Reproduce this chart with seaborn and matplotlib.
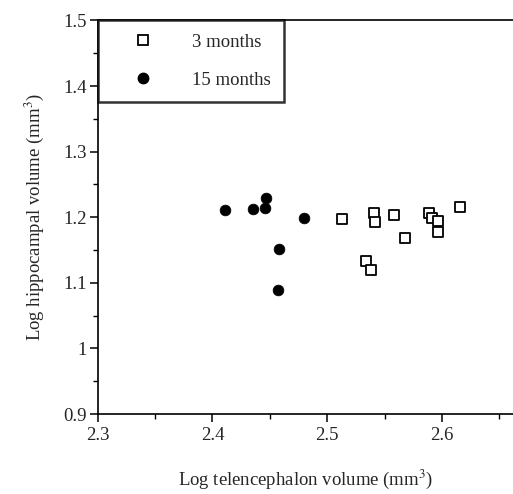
import matplotlib
matplotlib.use("Agg")
import matplotlib.pyplot as plt
import seaborn as sns
import pandas as pd
from matplotlib.ticker import MultipleLocator
from matplotlib.lines import Line2D

sns.set_style("white")
plt.rcParams['font.family'] = ['Liberation Serif', 'DejaVu Serif']
plt.rcParams['mathtext.fontset'] = 'stix'

# 3 months (open squares)
tel_3m = [2.513, 2.541, 2.542, 2.558, 2.589, 2.591, 2.597, 2.597, 2.616, 2.568, 2.534, 2.538]
hip_3m = [1.198, 1.206, 1.192, 1.204, 1.206, 1.199, 1.194, 1.178, 1.215, 1.168, 1.133, 1.119]
# 15 months (filled circles)
tel_15m = [2.411, 2.435, 2.446, 2.447, 2.480, 2.458, 2.457]
hip_15m = [1.211, 1.213, 1.214, 1.229, 1.199, 1.152, 1.089]

labels = ["3 months", "15 months"]
x_ticks = [2.3, 2.4, 2.5, 2.6]
y_ticks = [0.9, 1.0, 1.1, 1.2, 1.3, 1.4, 1.5]
y_ticklabels = ["0.9", "1", "1.1", "1.2", "1.3", "1.4", "1.5"]

df3 = pd.DataFrame({"x": tel_3m, "y": hip_3m})
df15 = pd.DataFrame({"x": tel_15m, "y": hip_15m})

FS = 13.5

fig = plt.figure(figsize=(5.13, 4.94), dpi=100)
ax = fig.add_axes([97.7/513, 1-414/494, 1-97.7/513, (414-20.5)/494])

sns.scatterplot(data=df3, x="x", y="y", ax=ax, marker="s", s=48,
                facecolor="white", edgecolor="black", linewidth=1.3, zorder=3)
sns.scatterplot(data=df15, x="x", y="y", ax=ax, marker="o", s=60,
                color="black", edgecolor="black", linewidth=0.5, zorder=3)

ax.set_xlim(2.3, 2.662)
ax.set_ylim(0.9, 1.5)
ax.set_xticks(x_ticks)
ax.set_xticklabels([f"{v:.1f}" for v in x_ticks])
ax.set_yticks(y_ticks)
ax.set_yticklabels(y_ticklabels)
ax.xaxis.set_minor_locator(MultipleLocator(0.05))
ax.yaxis.set_minor_locator(MultipleLocator(0.05))
ax.tick_params(which="major", direction="out", length=6, width=1.1, labelsize=FS,
               bottom=True, left=True, color="black")
ax.tick_params(axis="x", which="major", pad=3)
ax.tick_params(axis="y", which="major", pad=2)
ax.tick_params(which="minor", direction="out", length=3.5, width=1.0,
               bottom=True, left=True, color="black")
for s in ["left", "bottom", "top"]:
    ax.spines[s].set_color("black")
    ax.spines[s].set_linewidth(1.2)
ax.spines["right"].set_visible(False)

ax.set_xlabel("Log telencephalon volume (mm$^3$)", fontsize=FS, labelpad=17)
ax.set_ylabel("Log hippocampal volume (mm$^3$)", fontsize=FS, labelpad=12)

handles = [
    Line2D([], [], marker="s", linestyle="none", markersize=6.5, markerfacecolor="white",
           markeredgecolor="black", markeredgewidth=1.3),
    Line2D([], [], marker="o", linestyle="none", markersize=7.5, markerfacecolor="black",
           markeredgecolor="black"),
]
leg = ax.legend(handles, labels, loc="upper left", bbox_to_anchor=(0, 1),
                borderaxespad=0, fontsize=FS, frameon=True, fancybox=False,
                borderpad=0.70, labelspacing=1.13, handlelength=3.46, handletextpad=0.87)
leg.get_frame().set_edgecolor("black")
leg.get_frame().set_linewidth(1.8)

fig.savefig("out.png", dpi=100)
